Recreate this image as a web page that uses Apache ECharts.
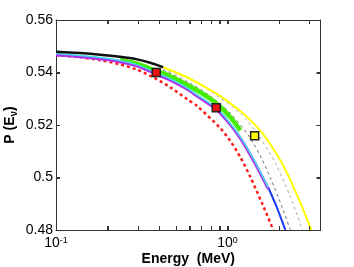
<!DOCTYPE html>
<html><head><meta charset="utf-8">
<script src="https://cdn.jsdelivr.net/npm/echarts@6/dist/echarts.min.js"></script>
<style>html,body{margin:0;padding:0;background:#fff}#c{width:354px;height:267px}</style>
</head><body><div id="c"></div>
<script>
// ---- data ----
const xLabelValues = [0.1, 1];
const xTickValues = [0.1,0.2,0.3,0.4,0.5,0.6,0.7,0.8,0.9,1,2,3];
const yTickLabels = [0.48, 0.5, 0.52, 0.54, 0.56];

const blackE = [0.1, 0.138, 0.181, 0.236, 0.293, 0.354, 0.421];
const blackP = [0.5479, 0.5474, 0.5468, 0.5460, 0.5451, 0.5437, 0.5420];

const yellowE = [0.421, 0.582, 0.724, 0.907, 1.186, 1.394, 1.660, 2.031, 2.323, 2.657, 3.08];
const yellowP = [0.5420, 0.5382, 0.5348, 0.5310, 0.5253, 0.5211, 0.5154, 0.5066, 0.4990, 0.4903, 0.4800];

const grayDarkE = [0.421, 0.606, 0.793, 1.037, 1.357, 1.573, 1.800, 2.058, 2.323];
const grayDarkP = [0.5409, 0.5359, 0.5310, 0.5245, 0.5150, 0.5074, 0.4990, 0.4895, 0.4800];

const grayLightE = [0.421, 0.606, 0.793, 1.186, 1.511, 1.899, 2.323, 2.730];
const grayLightP = [0.5412, 0.5374, 0.5329, 0.5245, 0.5161, 0.5055, 0.4926, 0.4800];

const redE = [0.1, 0.138, 0.181, 0.236, 0.293, 0.368, 0.463, 0.582, 0.665, 0.907, 1.037, 1.186, 1.357, 1.595, 1.848];
const redP = [0.5467, 0.5458, 0.5447, 0.5431, 0.5412, 0.5382, 0.5344, 0.5298, 0.5272, 0.5188, 0.5139, 0.5078, 0.5002, 0.4899, 0.4800];

const greenE = [0.236, 0.293, 0.368, 0.463, 0.648, 0.859, 1.037, 1.186];
const greenP = [0.5447, 0.5435, 0.5411, 0.5386, 0.5336, 0.5283, 0.5230, 0.5180];

const magentaE = [0.1, 0.138, 0.181, 0.236, 0.293, 0.368, 0.463, 0.582, 0.665, 0.859, 1.009, 1.186, 1.432, 1.729];
const magentaP = [0.5467, 0.5460, 0.5452, 0.5441, 0.5426, 0.5399, 0.5371, 0.5336, 0.5310, 0.5260, 0.5211, 0.5150, 0.5059, 0.4956];
const cyanP    = [0.5472, 0.5465, 0.5457, 0.5446, 0.5431, 0.5404, 0.5376, 0.5341, 0.5315, 0.5265, 0.5216, 0.5155, 0.5064, 0.4961];

const blueE = [1.729, 1.924, 2.172];
const blueP = [0.4961, 0.4891, 0.4800];

const markerRedE = [0.384, 0.859];
const markerRedP = [0.5400, 0.5266];
const markerYellowE = [1.438];
const markerYellowP = [0.5159];

// ---- build ----
const X_MIN = 0.1, X_MAX = 3.48, Y_MIN = 0.48, Y_MAX = 0.56;
const zip = (a, b) => a.map((v, i) => [v, b[i]]);
const font = '"Liberation Sans", Arial, Helvetica, sans-serif';
const axisColor = '#333';
const TICK_LEN = 4;

function lineSeries(name, E, P, color, width, type, z) {
  return {
    name, type: 'line', data: zip(E, P), showSymbol: false, smooth: 0.25,
    lineStyle: { color, width, type: type || 'solid', cap: 'butt', join: 'round' }, z: z, silent: true, animation: false
  };
}

function tickStyle() { return { show: true, inside: true, length: TICK_LEN, lineStyle: { color: axisColor, width: 1 } }; }

// inward box ticks drawn through the axes' own scales
const xTickSeries = {
  type: 'custom', name: 'xticks', clip: false, silent: true, z: 30,
  data: xTickValues.map(v => [v, Y_MIN]),
  encode: { x: 0, y: 1 },
  renderItem: (params, api) => {
    const v = api.value(0);
    const b = api.coord([v, Y_MIN]);
    const t = api.coord([v, Y_MAX]);
    const x = Math.round(b[0]) + 0.5;
    return { type: 'group', children: [
      { type: 'line', shape: { x1: x, y1: b[1], x2: x, y2: b[1] - TICK_LEN }, style: { stroke: axisColor, lineWidth: 1 } },
      { type: 'line', shape: { x1: x, y1: t[1], x2: x, y2: t[1] + TICK_LEN }, style: { stroke: axisColor, lineWidth: 1 } }
    ]};
  }
};
const yTickSeries = {
  type: 'custom', name: 'yticks', clip: false, silent: true, z: 30,
  data: yTickLabels.map(v => [X_MIN, v]),
  encode: { x: 0, y: 1 },
  renderItem: (params, api) => {
    const v = api.value(1);
    const l = api.coord([X_MIN, v]);
    const r = api.coord([X_MAX, v]);
    const y = Math.round(l[1]) + 0.5;
    return { type: 'group', children: [
      { type: 'line', shape: { x1: l[0], y1: y, x2: l[0] + TICK_LEN, y2: y }, style: { stroke: axisColor, lineWidth: 1 } },
      { type: 'line', shape: { x1: r[0], y1: y, x2: r[0] - TICK_LEN, y2: y }, style: { stroke: axisColor, lineWidth: 1 } }
    ]};
  }
};

const chart = echarts.init(document.getElementById('c'), null, { renderer: 'canvas' });
chart.setOption({
  animation: false,
  backgroundColor: '#fff',
  grid: { left: 56, right: 33.5, top: 20, bottom: 37, containLabel: false, outerBoundsMode: 'none' },
  xAxis: [{
    type: 'log', logBase: 10, min: X_MIN, max: X_MAX, position: 'bottom',
    name: 'Energy  (MeV)', nameLocation: 'middle', nameGap: 22, nameMoveOverlap: false,
    nameTextStyle: { fontFamily: font, fontSize: 14, fontWeight: 'bold', color: '#000' },
    axisLine: { show: true, onZero: false, lineStyle: { color: axisColor, width: 1 } },
    axisTick: Object.assign(tickStyle(), { customValues: xTickValues }),
    minorTick: { show: false },
    splitLine: { show: false },
    axisLabel: {
      show: true, customValues: xLabelValues, margin: 6, fontFamily: font, color: '#000',
      formatter: v => '{b|10}{s|' + Math.round(Math.log10(v)) + '}',
      rich: {
        b: { fontSize: 14, fontFamily: font, color: '#000', lineHeight: 14, verticalAlign: 'bottom' },
        s: { fontSize: 9, fontFamily: font, color: '#000', lineHeight: 9, verticalAlign: 'top', padding: [0, 0, 7, 0] }
      }
    }
  }, {
    type: 'log', logBase: 10, min: X_MIN, max: X_MAX, position: 'top',
    axisLine: { show: true, onZero: false, lineStyle: { color: axisColor, width: 1 } },
    axisTick: Object.assign(tickStyle(), { customValues: xTickValues }),
    axisLabel: { show: false }, splitLine: { show: false }
  }],
  yAxis: [{
    type: 'value', min: Y_MIN, max: Y_MAX, interval: 0.02, position: 'left',
    name: '{b|P (E}{s|ν}{b|)}', nameLocation: 'middle', nameGap: 37, nameRotate: 90, nameMoveOverlap: false,
    nameTextStyle: {
      fontFamily: font, fontSize: 14, fontWeight: 'bold', color: '#000',
      rich: {
        b: { fontSize: 14, fontWeight: 'bold', fontFamily: font, color: '#000', lineHeight: 16, verticalAlign: 'top' },
        s: { fontSize: 10, fontWeight: 'bold', fontFamily: font, color: '#000', lineHeight: 10, verticalAlign: 'bottom', padding: [8, 0, 0, 0] }
      }
    },
    axisLine: { show: true, onZero: false, lineStyle: { color: axisColor, width: 1 } },
    axisTick: tickStyle(),
    splitLine: { show: false },
    axisLabel: {
      margin: 3, fontFamily: font, fontSize: 14, color: '#000',
      formatter: v => { const f = yTickLabels.find(t => Math.abs(t - v) < 1e-9); return f === undefined ? '' : String(f); }
    }
  }, {
    type: 'value', min: Y_MIN, max: Y_MAX, interval: 0.02, position: 'right',
    axisLine: { show: true, onZero: false, lineStyle: { color: axisColor, width: 1 } },
    axisTick: tickStyle(),
    axisLabel: { show: false }, splitLine: { show: false }
  }],
  series: [
    lineSeries('red', redE, redP, '#ff1a1a', 2.5, [3, 3], 2),
    lineSeries('grayDark', grayDarkE, grayDarkP, '#707070', 1, [3, 3], 3),
    lineSeries('grayLight', grayLightE, grayLightP, '#a8a8a8', 1, [3, 3], 3),
    lineSeries('yellow', yellowE, yellowP, '#ffff00', 2, 'solid', 4),
    lineSeries('green', greenE, greenP, '#44ee00', 4.5, 'solid', 5),
    lineSeries('blue', blueE, blueP, '#1a3cff', 2, 'solid', 6),
    lineSeries('magenta', magentaE, magentaP, '#b030f0', 3, 'solid', 7),
    lineSeries('cyan', magentaE, cyanP, '#40e0e8', 1.5, 'solid', 8),
    lineSeries('black', blackE, blackP, '#111111', 2.5, 'solid', 9),
    {
      type: 'scatter', data: zip(markerRedE, markerRedP), symbol: 'rect', symbolSize: 8, z: 20,
      itemStyle: { color: '#ee1111', borderColor: '#222', borderWidth: 1.5, opacity: 1 }, silent: true
    },
    {
      type: 'scatter', data: zip(markerYellowE, markerYellowP), symbol: 'rect', symbolSize: 8, z: 20,
      itemStyle: { color: '#ffff00', borderColor: '#222', borderWidth: 1.5, opacity: 1 }, silent: true
    },
    xTickSeries,
    yTickSeries
  ]
});
</script>
</body></html>
